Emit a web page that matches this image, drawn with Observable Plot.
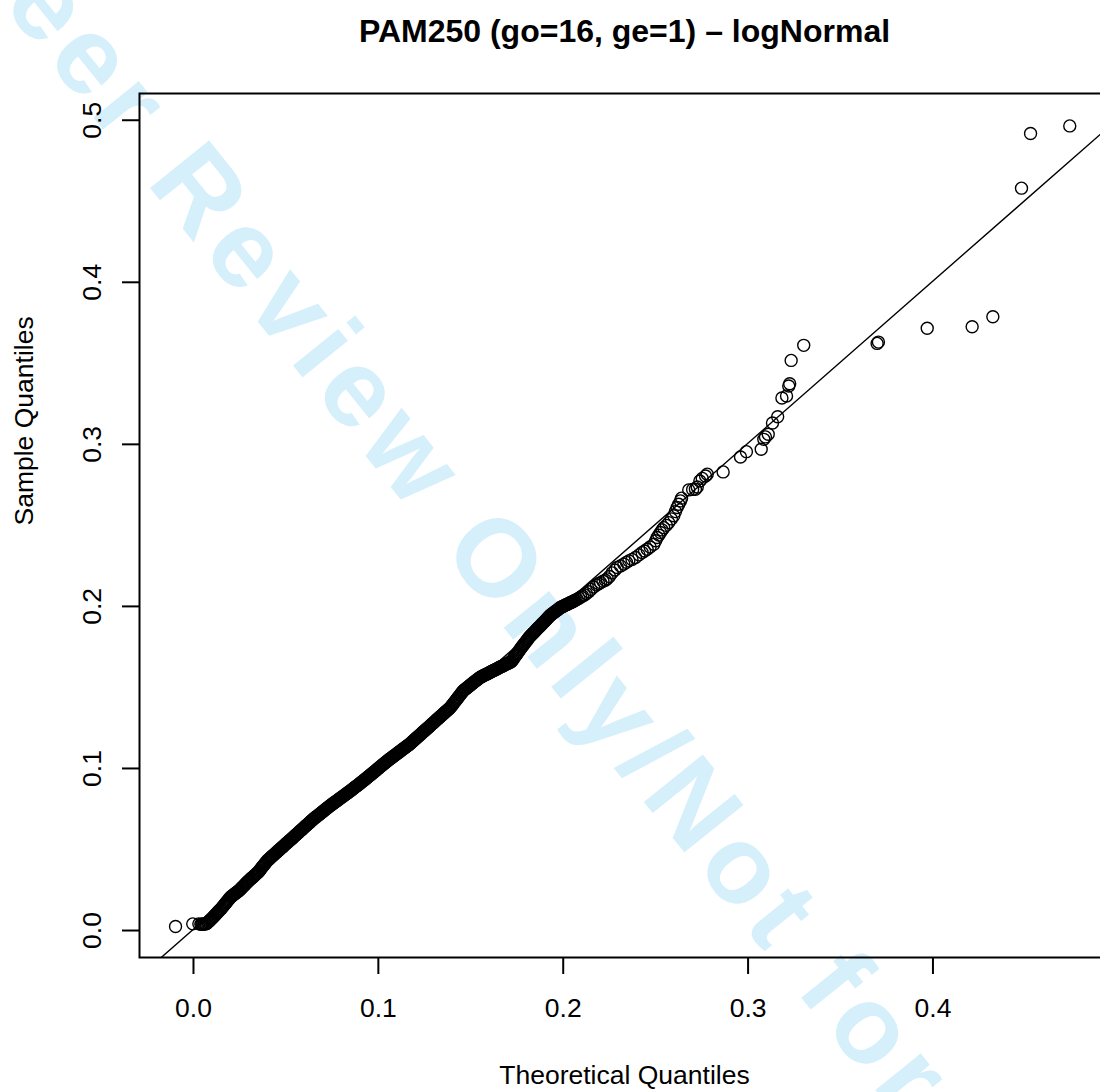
<!DOCTYPE html>
<html><head><meta charset="utf-8">
<script src="https://cdn.jsdelivr.net/npm/d3@7"></script>
<script src="https://cdn.jsdelivr.net/npm/@observablehq/plot@0.6"></script>
<style>
html,body{margin:0;padding:0;overflow:hidden;background:#fff;width:1100px;height:1092px;}
#wrap{position:relative;width:1100px;height:1092px;overflow:hidden;background:#fff;}
#wm{position:absolute;left:0;top:0;}
#chart{position:absolute;left:0;top:0;}
</style></head><body>
<div id="wrap">
<svg id="wm" width="1100" height="1092"><text x="-50" y="-61" transform="rotate(51.2 -50 -61)" font-family="'Liberation Sans', Arial, sans-serif" font-weight="bold" font-size="110" letter-spacing="8.6" fill="#d5effb">Peer Review Only/Not for Distribution</text></svg>
<div id="chart"></div>
</div>
<script>
const title = "PAM250 (go=16, ge=1) \u2013 logNormal";
const xLabel = "Theoretical Quantiles";
const yLabel = "Sample Quantiles";
const xTicks = [0, 0.1, 0.2, 0.3, 0.4];
const yTicks = [0, 0.1, 0.2, 0.3, 0.4, 0.5];

// lowest points
const tailLowX = [-0.0097, -0.0004, 0.0029];
const tailLowY = [0.0025, 0.0041, 0.0041];

// dense band (theoretical, sample)
const bandX = [
.0040,.0045,.0050,.0055,.0060,.0065,.0070,.0075,.0080,.0085,.0090,.0095,
.0100,.0105,.0110,.0115,.0120,.0125,.0130,.0135,.0140,.0145,.0150,.0155,.0160,.0165,.0170,.0175,.0180,.0185,.0190,.0195,
.0200,.0205,.0210,.0215,.0220,.0225,.0230,.0235,.0240,.0245,.0250,.0255,.0260,.0265,.0270,.0275,.0280,.0285,.0290,.0295,
.0300,.0305,.0310,.0315,.0320,.0325,.0330,.0335,.0340,.0345,.0350,.0355,.0360,.0365,.0370,.0375,.0380,.0385,.0390,.0395,
.0400,.0405,.0410,.0415,.0420,.0425,.0430,.0435,.0440,.0445,.0450,.0455,.0460,.0465,.0470,.0475,.0480,.0485,.0490,.0495,
.0500,.0505,.0510,.0515,.0520,.0525,.0530,.0535,.0540,.0545,.0550,.0555,.0560,.0565,.0570,.0575,.0580,.0585,.0590,.0595,
.0600,.0605,.0610,.0615,.0620,.0625,.0630,.0635,.0640,.0645,.0650,.0655,.0660,.0665,.0670,.0675,.0680,.0685,.0690,.0695,
.0700,.0705,.0710,.0715,.0720,.0725,.0730,.0735,.0740,.0745,.0750,.0755,.0760,.0765,.0770,.0775,.0780,.0785,.0790,.0795,
.0800,.0805,.0810,.0815,.0820,.0825,.0830,.0835,.0840,.0845,.0850,.0855,.0860,.0865,.0870,.0875,.0880,.0885,.0890,.0895,
.0900,.0905,.0910,.0915,.0920,.0925,.0930,.0935,.0940,.0945,.0950,.0955,.0960,.0965,.0970,.0975,.0980,.0985,.0990,.0995,
.1000,.1005,.1010,.1015,.1020,.1025,.1030,.1035,.1040,.1045,.1050,.1055,.1060,.1065,.1070,.1075,.1080,.1085,.1090,.1095,
.1100,.1105,.1110,.1115,.1120,.1125,.1130,.1135,.1140,.1145,.1150,.1155,.1160,.1165,.1170,.1175,.1180,.1185,.1190,.1195,
.1200,.1205,.1210,.1215,.1220,.1225,.1230,.1235,.1240,.1245,.1250,.1255,.1260,.1265,.1270,.1275,.1280,.1285,.1290,.1295,
.1300,.1305,.1310,.1315,.1320,.1325,.1330,.1335,.1340,.1345,.1350,.1355,.1360,.1365,.1370,.1375,.1380,.1385,.1390,.1395,
.1400,.1405,.1410,.1415,.1420,.1425,.1430,.1435,.1440,.1445,.1450,.1455,.1460,.1465,.1470,.1475,.1480,.1485,.1490,.1495,
.1500,.1505,.1510,.1515,.1520,.1525,.1530,.1535,.1540,.1545,.1550,.1555,.1560,.1565,.1570,.1575,.1580,.1585,.1590,.1595,
.1600,.1605,.1610,.1615,.1620,.1625,.1630,.1635,.1640,.1645,.1650,.1655,.1660,.1665,.1670,.1675,.1680,.1685,.1690,.1695,
.1700,.1705,.1710,.1715,.1720,.1725,.1730,.1735,.1740,.1745,.1750,.1755,.1760,.1765,.1770,.1775,.1780,.1785,.1790,.1795,
.1800,.1805,.1810,.1815,.1820,.1825,.1830,.1835,.1840,.1845,.1850,.1855,.1860,.1865,.1870,.1875,.1880,.1885,.1890,.1895,
.1900,.1905,.1910,.1915,.1920,.1925,.1930,.1935,.1940,.1945,.1950,.1955,.1960,.1965,.1970,.1975,.1980,.1985,.1990,.1995,
.2000,.2005,.2010,.2015,.2020,.2025,.2030,.2035,.2040,.2045,.2050,.2055,.2060];
const bandY = [
.0038,.0039,.0039,.0040,.0041,.0041,.0042,
.0048,.0053,.0059,.0064,.0070,.0075,
.0081,.0087,.0093,.0099,.0105,.0111,.0117,.0123,.0129,.0135,
.0142,.0149,.0156,.0163,.0170,.0177,.0184,.0191,.0198,.0205,
.0210,.0214,.0219,.0223,.0228,.0232,.0237,.0241,.0246,.0250,
.0256,.0262,.0268,.0274,.0280,.0286,.0292,.0298,
.0303,.0308,.0313,.0319,.0324,.0329,.0334,.0339,.0344,.0350,.0355,.0360,
.0367,.0374,.0382,.0389,.0396,.0403,.0410,.0418,.0425,.0432,
.0437,.0442,.0447,.0453,.0458,.0463,.0468,.0473,.0478,.0483,.0489,.0494,.0499,.0504,
.0509,.0514,.0519,.0524,.0530,.0535,.0540,.0545,.0550,.0555,.0560,.0565,.0570,.0576,.0581,.0586,.0591,.0596,
.0601,.0606,.0612,.0617,.0622,.0627,.0632,.0638,.0643,.0648,.0653,.0658,.0663,.0668,.0674,.0679,.0684,.0689,
.0694,.0698,.0703,.0707,.0712,.0716,.0721,.0725,.0730,.0735,.0739,.0744,.0748,.0753,.0757,.0762,.0766,.0771,
.0775,.0779,.0784,.0788,.0792,.0796,.0800,.0804,.0809,.0813,.0817,.0821,.0825,.0829,.0834,.0838,.0842,.0846,.0850,.0855,.0859,.0863,
.0867,.0872,.0876,.0881,.0885,.0890,.0894,.0898,.0903,.0907,.0912,.0916,.0921,.0925,
.0930,.0934,.0939,.0944,.0949,.0953,.0958,.0963,.0968,.0972,.0977,.0982,.0986,.0991,.0996,.1001,.1005,.1010,.1015,.1020,.1024,.1029,.1034,.1039,.1043,.1048,
.1052,.1057,.1061,.1065,.1069,.1074,.1078,.1082,.1087,.1091,.1095,.1099,.1104,.1108,.1112,.1117,.1121,.1125,.1129,.1134,.1138,.1142,.1147,.1151,
.1156,.1161,.1166,.1171,.1177,.1182,.1187,.1192,.1197,.1202,.1207,.1212,.1217,.1223,.1228,.1233,.1238,.1243,.1248,.1253,.1258,.1264,
.1269,.1274,.1279,.1284,.1289,.1294,.1300,.1305,.1310,.1315,.1320,.1325,.1330,.1336,.1341,.1346,.1351,.1356,.1361,.1366,.1372,.1377,
.1384,.1392,.1399,.1406,.1414,.1421,.1429,.1436,.1443,.1451,.1458,.1465,.1473,.1480,
.1485,.1489,.1494,.1498,.1503,.1507,.1512,.1517,.1521,.1526,.1530,.1535,.1539,.1544,.1548,.1553,.1557,.1562,
.1565,.1568,.1571,.1574,.1577,.1579,.1582,.1585,.1588,.1591,.1594,.1597,.1600,.1603,.1606,.1608,.1611,.1614,.1617,.1620,
.1623,.1626,.1629,.1631,.1634,.1637,.1640,.1643,.1646,.1649,.1651,.1654,.1657,.1660,
.1668,.1676,.1684,.1692,.1700,.1708,.1716,.1724,.1732,.1740,
.1748,.1755,.1763,.1770,.1778,.1785,.1793,.1800,.1808,.1815,
.1821,.1827,.1833,.1838,.1844,.1850,.1856,.1862,.1868,.1873,.1879,.1885,
.1891,.1897,.1903,.1909,.1915,.1921,.1927,.1933,.1939,.1945,
.1949,.1954,.1958,.1962,.1967,.1971,.1975,.1980,.1984,.1989,.1993,
.1996,.1998,.2001,.2004,.2007,.2010,.2012,.2015,.2018,.2021,.2024,.2026,.2029,.2032,.2035];

// thinning part of the band
const midX = [.2065,.2075,.2085,.2095,.2105,.2115,.2125,.2138,.2150,.2165,.2180,.2192,.2202,.2215,.2228,.2238,.2250,.2265,.2280,.2292,.2310,.2328,.2342,.2355,.2372,.2391,.2410,.2427,.2440,.2454,.2470,.2490,.2500,.2508,.2517,.2526,.2535,.2544,.2558,.2571,.2585,.2598,.2607,.2616,.2625,.2634];
const midY = [.2038,.2044,.2051,.2058,.2064,.2071,.2079,.2090,.2105,.2120,.2132,.2140,.2147,.2155,.2162,.2170,.2185,.2207,.2225,.2240,.2250,.2261,.2272,.2281,.2290,.2302,.2318,.2332,.2342,.2353,.2367,.2384,.2405,.2425,.2440,.2456,.2472,.2486,.2500,.2517,.2540,.2559,.2585,.2610,.2630,.2651];

// upper tail
const upperX = [.2640,.2679,.2700,.2715,.2725,.2739,.2752,.2770,.2779,.2865,.2959,.2991,.3071,.3085,.3094,.3109,.3132,.3160,.3183,.3208,.3220,.3225,.3233,.3301,.3698,.3705,.3969,.4212,.4324,.4479,.4528,.4740];
const upperY = [.2668,.2719,.2722,.2723,.2737,.2774,.2790,.2805,.2816,.2830,.2922,.2955,.2970,.3031,.3046,.3062,.3132,.3170,.3286,.3298,.3360,.3374,.3518,.3611,.3623,.3631,.3716,.3726,.3787,.4581,.4918,.4965];

// reference line (qqline) end points
const lineX = [-0.05, 0.55];
const lineY = [-0.0492, 0.5508];

const zip = (xs, ys) => xs.map((x, i) => ({x, y: ys[i]})).filter(d => d.y !== undefined);
const points = [...zip(tailLowX, tailLowY), ...zip(bandX, bandY), ...zip(midX, midY), ...zip(upperX, upperY)];
const qqline = zip(lineX, lineY);

const fontFamily = "'Liberation Sans', Arial, Helvetica, sans-serif";
const fmt = d3.format(".1f");

const chart = Plot.plot({
  width: 1110, height: 1092,
  marginLeft: 139, marginRight: 1, marginTop: 93, marginBottom: 135,
  x: {domain: [-0.0292, 0.4955], label: null},
  y: {domain: [-0.01665, 0.5165], label: null},
  style: {background: "none", maxWidth: "none", fontFamily, fontSize: "26.5px", color: "black", overflow: "visible"},
  marks: [
    Plot.line(qqline, {x: "x", y: "y", stroke: "black", strokeWidth: 1.4, clip: true}),
    Plot.dot(points, {x: "x", y: "y", r: 6, stroke: "black", strokeWidth: 1.4, fill: "none"}),
    Plot.frame({stroke: "black", strokeWidth: 2}),
    Plot.axisX(xTicks, {tickSize: 17, tickPadding: 24, tickFormat: fmt, strokeWidth: 2, fontSize: 26.5, label: null}),
    Plot.axisY(yTicks, {tickSize: 17, tickPadding: 22, tickRotate: -90, tickFormat: fmt, strokeWidth: 2, fontSize: 26.5, label: null}),
    Plot.text([title], {frameAnchor: "top", text: d => d, dy: -52, lineAnchor: "bottom", fontWeight: "bold", fontSize: 32}),
    Plot.text([xLabel], {frameAnchor: "bottom", text: d => d, dy: 126, lineAnchor: "bottom", fontSize: 26.5}),
    Plot.text([yLabel], {frameAnchor: "left", text: d => d, dx: -107, rotate: -90, lineAnchor: "bottom", fontSize: 26.5})
  ]
});
document.getElementById("chart").appendChild(chart);
</script>
</body></html>
